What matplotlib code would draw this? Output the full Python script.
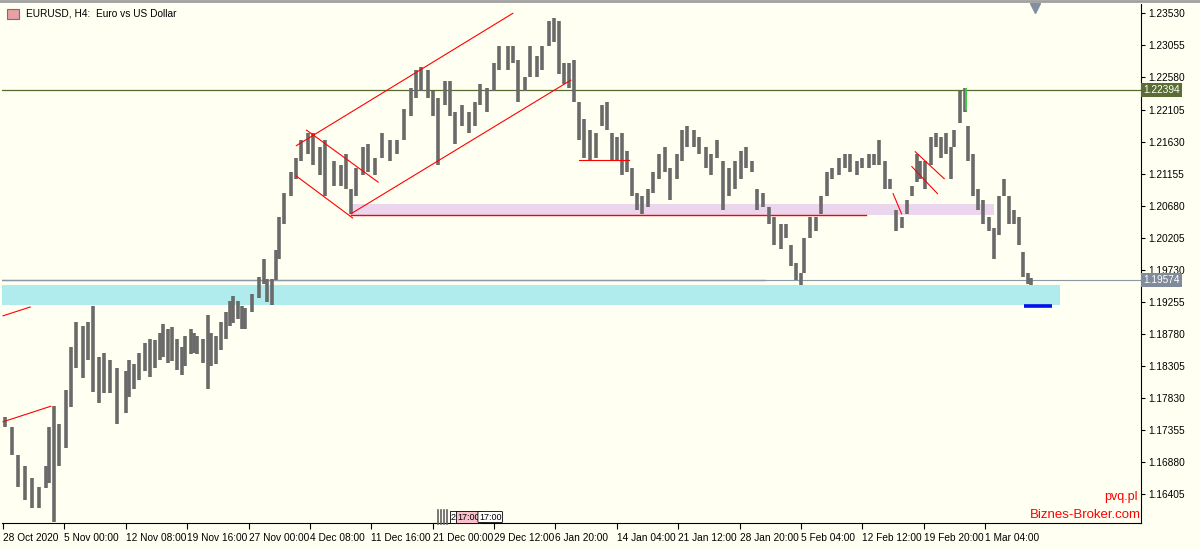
import matplotlib
matplotlib.use("Agg")
import matplotlib.pyplot as plt
import numpy as np

plt.rcParams['font.family'] = ['Liberation Sans', 'DejaVu Sans']

# H4 bar index, high, low
bars = [1,5,9,13,17,21,25,27,30,33,37,40,43,47,50,53,56,59,63,67,72,74,77,80,83,86,89,92,94,97,99,102,105,107,110,112,114,117,120,122,125,128,131,133,135,138,140,142,146,150,153,155,158,160,162,165,169,172,175,179,182,186,189,194,198,201,204,207,211,214,218,222,227,231,235,239,242,245,249,252,255,259,262,265,269,273,277,280,284,288,291,296,299,302,306,309,313,316,320,323,326,329,332,335,338,341,344,348,351,354,357,360,363,366,369,372,375,378,381,385,388,391,395,398,401,405,408,412,415,419,422,426,429,433,436,439,442,446,449,452,456,459,462,465,468,470,473,477,480,483,486,490,494,497,501,504,508,511,514,517,520,524,527,530,533,536,538,541,544,547,550,553,556,558,561,564,566,569,572,575,578,581,584,587,590,593,596,598,601,603]
highs = [1.1755,1.1740,1.1699,1.1683,1.1665,1.1652,1.1683,1.1740,1.1771,1.1745,1.1795,1.1859,1.1896,1.1890,1.1896,1.1919,1.1844,1.1850,1.1840,1.1828,1.1823,1.1840,1.1834,1.1850,1.1865,1.1870,1.1869,1.1880,1.1893,1.1885,1.1888,1.1870,1.1859,1.1875,1.1885,1.1880,1.1875,1.1870,1.1906,1.1880,1.1875,1.1896,1.1910,1.1927,1.1935,1.1927,1.1920,1.1917,1.1937,1.1962,1.1989,1.1960,1.1960,1.2003,1.2051,1.2087,1.2118,1.2139,1.2165,1.2176,1.2176,1.2155,1.2165,1.2134,1.2128,1.2145,1.2093,1.2124,1.2155,1.2159,1.2139,1.2176,1.2165,1.2165,1.2211,1.2242,1.2269,1.2273,1.2269,1.2238,1.2228,1.2253,1.2253,1.2207,1.2217,1.2207,1.2222,1.2248,1.2242,1.2279,1.2305,1.2305,1.2305,1.2284,1.2259,1.2305,1.2290,1.2305,1.2342,1.2346,1.2342,1.2279,1.2279,1.2284,1.2222,1.2196,1.2180,1.2176,1.2217,1.2222,1.2176,1.2170,1.2176,1.2149,1.2124,1.2087,1.2082,1.2093,1.2118,1.2145,1.2155,1.2124,1.2145,1.2180,1.2186,1.2180,1.2170,1.2155,1.2145,1.2165,1.2134,1.2124,1.2134,1.2149,1.2155,1.2134,1.2093,1.2087,1.2066,1.2051,1.2041,1.2041,1.2010,1.1983,1.1968,1.2020,1.2051,1.2051,1.2082,1.2118,1.2124,1.2139,1.2145,1.2145,1.2134,1.2139,1.2145,1.2145,1.2165,1.2134,1.2108,1.2062,1.2051,1.2076,1.2097,1.2145,1.2134,1.2134,1.2170,1.2176,1.2170,1.2176,1.2155,1.2180,1.2238,1.2242,1.2186,1.2145,1.2093,1.2076,1.2051,1.2035,1.2082,1.2108,1.2082,1.2062,1.2051,1.1999,1.1968,1.1961]
lows = [1.1740,1.1699,1.1652,1.1632,1.1620,1.1620,1.1650,1.1657,1.1600,1.1683,1.1709,1.1770,1.1828,1.1813,1.1840,1.1792,1.1776,1.1790,1.1790,1.1745,1.1761,1.1785,1.1797,1.1810,1.1823,1.1815,1.1828,1.1840,1.1844,1.1835,1.1838,1.1825,1.1817,1.1830,1.1848,1.1850,1.1848,1.1835,1.1797,1.1830,1.1834,1.1854,1.1870,1.1890,1.1895,1.1900,1.1885,1.1885,1.1911,1.1931,1.1952,1.1925,1.1921,1.1958,1.1989,1.2041,1.2082,1.2108,1.2134,1.2145,1.2128,1.2114,1.2082,1.2097,1.2097,1.2093,1.2056,1.2082,1.2114,1.2118,1.2114,1.2139,1.2134,1.2145,1.2165,1.2201,1.2228,1.2238,1.2228,1.2201,1.2128,1.2217,1.2201,1.2159,1.2186,1.2176,1.2186,1.2217,1.2207,1.2238,1.2269,1.2269,1.2279,1.2222,1.2238,1.2259,1.2259,1.2269,1.2305,1.2311,1.2263,1.2248,1.2242,1.2222,1.2165,1.2139,1.2134,1.2139,1.2186,1.2180,1.2134,1.2134,1.2114,1.2118,1.2082,1.2062,1.2056,1.2066,1.2087,1.2108,1.2118,1.2076,1.2108,1.2134,1.2155,1.2155,1.2145,1.2124,1.2114,1.2139,1.2062,1.2082,1.2093,1.2108,1.2124,1.2118,1.2062,1.2066,1.2041,1.2010,1.2004,1.2020,1.1979,1.1958,1.1951,1.1968,1.2020,1.2031,1.2056,1.2082,1.2108,1.2114,1.2124,1.2118,1.2114,1.2124,1.2124,1.2128,1.2128,1.2093,1.2093,1.2031,1.2035,1.2056,1.2082,1.2103,1.2108,1.2093,1.2128,1.2155,1.2139,1.2145,1.2108,1.2155,1.2191,1.2207,1.2134,1.2082,1.2062,1.2041,1.2031,1.1989,1.2025,1.2082,1.2041,1.2041,1.2010,1.1962,1.1952,1.1951]

tick_bars = list(range(0, 577, 36))
tick_labels = ["28 Oct 2020","5 Nov 00:00","12 Nov 08:00","19 Nov 16:00","27 Nov 00:00","4 Dec 08:00","11 Dec 16:00","21 Dec 00:00","29 Dec 12:00","6 Jan 20:00","14 Jan 04:00","21 Jan 12:00","28 Jan 20:00","5 Feb 04:00","12 Feb 12:00","19 Feb 20:00","1 Mar 04:00"]
price_ticks = [1.23530,1.23055,1.22580,1.22105,1.21630,1.21155,1.20680,1.20205,1.19730,1.19255,1.18780,1.18305,1.17830,1.17355,1.16880,1.16405]
level_high = 1.22394
level_last = 1.19574

bg = "#fffff2"
fig = plt.figure(figsize=(12, 5.49), dpi=100, facecolor=bg)
ax = fig.add_axes([2/1200, 26/549, 1139/1200, 519/549], facecolor=bg)
ax.set_xlim(-0.6, 667.4)
ax.set_ylim(1.15981, 1.23668)

# zones
ax.fill_between([-1, 620], 1.1921, 1.1951, color="#b0ecee", lw=0, zorder=1)
ax.fill_between([204, 581], 1.2054, 1.2071, color="#ecd6ee", lw=0, zorder=1)
ax.plot([-1, 447], [1.1958, 1.1958], color="red", lw=0.9, zorder=2)
ax.plot([204, 506], [1.2054, 1.2054], color="red", lw=1.0, zorder=2)
ax.axhline(level_high, color="#556b2f", lw=0.9, zorder=2)
ax.axhline(level_last, color="#8c98a4", lw=0.8, zorder=2)

# bars
ax.vlines(bars, lows, highs, color="#6a6a6a", lw=2.6, zorder=3)
ax.vlines([565], [1.2210], [1.2242], color="#33dd33", lw=1.2, zorder=4)

# red drawn lines
segs = [((172,1.2157),(299,1.2353)), ((204,1.2056),(333,1.2254)),
        ((178,1.2180),(220,1.2103)), ((172,1.2112),(205,1.2050)),
        ((0,1.1905),(16,1.1918)), ((0,1.1748),(28,1.1771)),
        ((338,1.2136),(367,1.2136)), ((535,1.2148),(552,1.2108)),
        ((533,1.2126),(548,1.2086)), ((522,1.2086),(527,1.2056))]
for (x0,y0),(x1,y1) in segs:
    ax.plot([x0,x1],[y0,y1], color="red", lw=0.8, zorder=5)
ax.plot([599, 615], [1.1919, 1.1919], color="#0010ee", lw=2.6, zorder=5, solid_capstyle="butt")
ax.plot([605.5], [1.2361], marker="v", color="#8090a0", ms=7, zorder=6, clip_on=False)

# axes styling
for s in ["top","left"]:
    ax.spines[s].set_visible(False)
ax.spines["right"].set_color("black"); ax.spines["bottom"].set_color("black")
ax.yaxis.tick_right()
ax.set_yticks(price_ticks)
ax.set_yticklabels([f"{p:.5f}" for p in price_ticks], fontsize=7.3)
ax.set_xticks(tick_bars)
ax.set_xticklabels(tick_labels, fontsize=7.3, ha="left")
ax.tick_params(axis="x", length=4, pad=3)
ax.tick_params(axis="y", length=3, pad=2)

ax.text(1.002, (level_high-1.15981)/(1.23668-1.15981), "1.22394", transform=ax.transAxes,
        fontsize=7.3, color="white", va="center", ha="left",
        bbox=dict(boxstyle="square,pad=0.2", fc="#5a6e34", ec="none"))
ax.text(1.002, (level_last-1.15981)/(1.23668-1.15981), "1.19574", transform=ax.transAxes,
        fontsize=7.3, color="white", va="center", ha="left",
        bbox=dict(boxstyle="square,pad=0.2", fc="#7f8a9a", ec="none"))

fig.text(26/1200, 1-14/549, "EURUSD, H4:  Euro vs US Dollar", fontsize=7.3, va="center")
fig.patches.append(plt.Rectangle((7/1200, 1-19/549), 12/1200, 10/549, transform=fig.transFigure,
                                 fc="#e8a0a0", ec="#6070a0", lw=0.8))
fig.text(1138/1200, 1-497/549, "pvq.pl", fontsize=9, color="red", ha="right", va="center")
fig.text(1141/1200, 1-515/549, "Biznes-Broker.com", fontsize=9.5, color="red", ha="right", va="center")
for xx in [438, 441, 444, 447]:
    fig.add_artist(plt.Line2D([xx/1200, xx/1200], [1-524/549, 1-510/549], color="#606060", lw=1.2))
fig.text(451/1200, 1-517/549, "2", fontsize=6.5, ha="left", va="center",
         bbox=dict(boxstyle="square,pad=0.12", fc="white", ec="black", lw=0.6))
fig.text(457/1200, 1-517/549, "17:00", fontsize=6.5, ha="left", va="center",
         bbox=dict(boxstyle="square,pad=0.12", fc="#f8c0c8", ec="black", lw=0.6))
fig.text(479/1200, 1-517/549, "17:00", fontsize=6.5, ha="left", va="center",
         bbox=dict(boxstyle="round,pad=0.12", fc="white", ec="black", lw=0.6))
fig.add_artist(plt.Line2D([0, 1], [1-1/549, 1-1/549], color="#a0a0a0", lw=2))
fig.savefig("out.png", dpi=100, facecolor=bg)
